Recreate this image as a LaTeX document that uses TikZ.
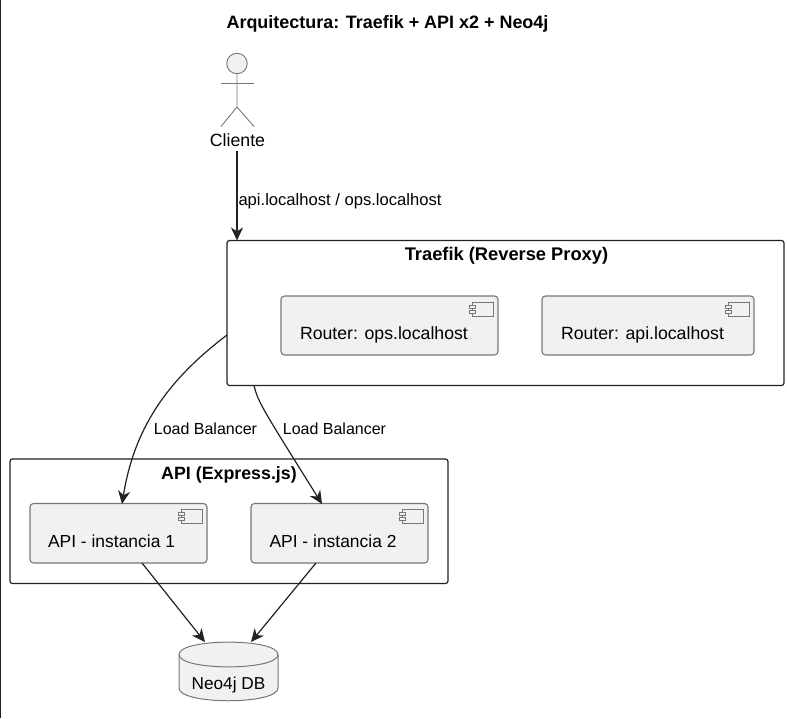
\documentclass[tikz,border=0pt]{standalone}
\usepackage{fontspec}
\setmainfont{Liberation Sans}
\usetikzlibrary{arrows.meta,calc}
\definecolor{fillgrey}{HTML}{F1F1F1}
\definecolor{edgegrey}{HTML}{777777}
\definecolor{linedark}{HTML}{222222}
\newcommand{\compicon}[1]{%
  \draw[edgegrey,line width=.8pt] ($(#1.north east)+(-26,6)$) rectangle ($(#1.north east)+(-5,20)$);
  \draw[edgegrey,line width=.8pt,fill=fillgrey] ($(#1.north east)+(-28.5,9)$) rectangle ($(#1.north east)+(-23,12)$);
  \draw[edgegrey,line width=.8pt,fill=fillgrey] ($(#1.north east)+(-28.5,14)$) rectangle ($(#1.north east)+(-23,17)$);
}
\tikzset{
  x=1pt,y=-1pt,
  every node/.style={inner sep=0pt,outer sep=0pt,text=black},
  groupbox/.style={draw=linedark,line width=1.2pt,rounded corners=2.5pt,fill=white},
  compbox/.style={draw=edgegrey,line width=1.1pt,rounded corners=3.5pt,fill=fillgrey},
  bigtext/.style={font=\fontsize{17.7}{20}\selectfont},
  apitext/.style={font=\fontsize{17.45}{20}\selectfont},
  titletext/.style={font=\fontsize{17.95}{20}\selectfont\bfseries},
  boxtitle/.style={font=\fontsize{18.3}{20}\selectfont\bfseries},
  apititlefont/.style={font=\fontsize{17.8}{20}\selectfont\bfseries},
  smalltext/.style={font=\fontsize{16}{18}\selectfont},
  hosttext/.style={font=\fontsize{16.6}{18}\selectfont},
  conn/.style={linedark,line width=1.2pt,-{Stealth[length=13pt,width=12pt,inset=4pt]}},
  actorline/.style={edgegrey,line width=.9pt},
}
\begin{document}
\begin{tikzpicture}
\useasboundingbox (0,0) rectangle (787,718);
\draw[linedark,line width=1.2pt] (.5,0) -- (.5,718);
\node[titletext] (title) at (387.5,24) {Arquitectura: Traefik + API x2 + Neo4j};

% actor
\node[circle,draw=edgegrey,line width=.9pt,fill=fillgrey,minimum size=20.5pt] (head) at (237,63.5) {};
\coordinate (armL) at (221,83.5); \coordinate (armR) at (254,83.5);
\coordinate (hip) at (237,107); \coordinate (legL) at (221,126.5); \coordinate (legR) at (254,126.5);
\draw[actorline] (head.south) -- (hip) (armL) -- (armR) (legL) -- (hip) -- (legR);
\node[bigtext] (cliente) at (237.5,140) {Cliente};

% traefik
\path[groupbox] (227,240.5) rectangle (784,385.5);
\node[minimum width=557pt,minimum height=145pt] (traefik) at (505.5,313) {};
\node[boxtitle] (traefiktitle) at (506.5,256) {Traefik (Reverse Proxy)};
\node[compbox,minimum width=217pt,minimum height=59pt] (rops) at (389.5,325.5) {};
\node[compbox,minimum width=212pt,minimum height=59pt] (rapi) at (648,325.5) {};
\compicon{rops}\compicon{rapi}
\node[bigtext,anchor=west] (ropst) at (300,335) {Router: ops.localhost};
\node[bigtext,anchor=west] (rapit) at (561,335) {Router: api.localhost};

% api
\path[groupbox] (10,459) rectangle (448,583.5);
\node[minimum width=438pt,minimum height=124.5pt] (api) at (229,521.25) {};
\node[apititlefont] (apititle) at (229,475) {API (Express.js)};
\node[compbox,minimum width=177pt,minimum height=59.5pt] (a1) at (118.5,533.25) {};
\node[compbox,minimum width=177pt,minimum height=59.5pt] (a2) at (339.5,533.25) {};
\compicon{a1}\compicon{a2}
\node[apitext,anchor=west] (a1t) at (48,541.5) {API - instancia 1};
\node[apitext,anchor=west] (a2t) at (269.5,541.5) {API - instancia 2};

% db
\node[minimum width=99pt,minimum height=59pt] (db) at (228.5,671.5) {};
\path[draw=edgegrey,line width=1pt,fill=fillgrey]
  (179,654.5) .. controls (179,638) and (278,638) .. (278,654.5)
  -- (278,688) .. controls (278,705) and (179,705) .. (179,688) -- cycle;
\draw[edgegrey,line width=1pt] (179,654.5) .. controls (179,671) and (278,671) .. (278,654.5);
\node[font=\fontsize{17.2}{20}\selectfont] (dbt) at (228.5,685) {Neo4j DB};

% connectors
\coordinate (c0) at ($(cliente.south -| head)+(0,4)$);
\draw[conn] (c0) -- (head |- traefik.north);
\node[hosttext,anchor=west] (l0) at (238.5,201.5) {api.localhost / ops.localhost};
\coordinate (t1) at (traefik.west |- 0,335);
\coordinate (t2) at (254,0 |- traefik.south);
\coordinate (d1) at (205,642); \coordinate (d2) at (251,642);
\draw[conn] (t1) .. controls (165,382) and (134,430) .. (122,504) coordinate (a1in);
\node[smalltext] (l1) at (205.5,428.5) {Load Balancer};
\draw[conn] (t2) .. controls (258,402) and (262,408) .. (322,504) coordinate (a2in);
\node[smalltext] (l2) at (334.5,428.5) {Load Balancer};
\draw[conn] (142,563) coordinate (a1out) -- (d1);
\draw[conn] (316,563) coordinate (a2out) -- (d2);
\end{tikzpicture}
\end{document}
